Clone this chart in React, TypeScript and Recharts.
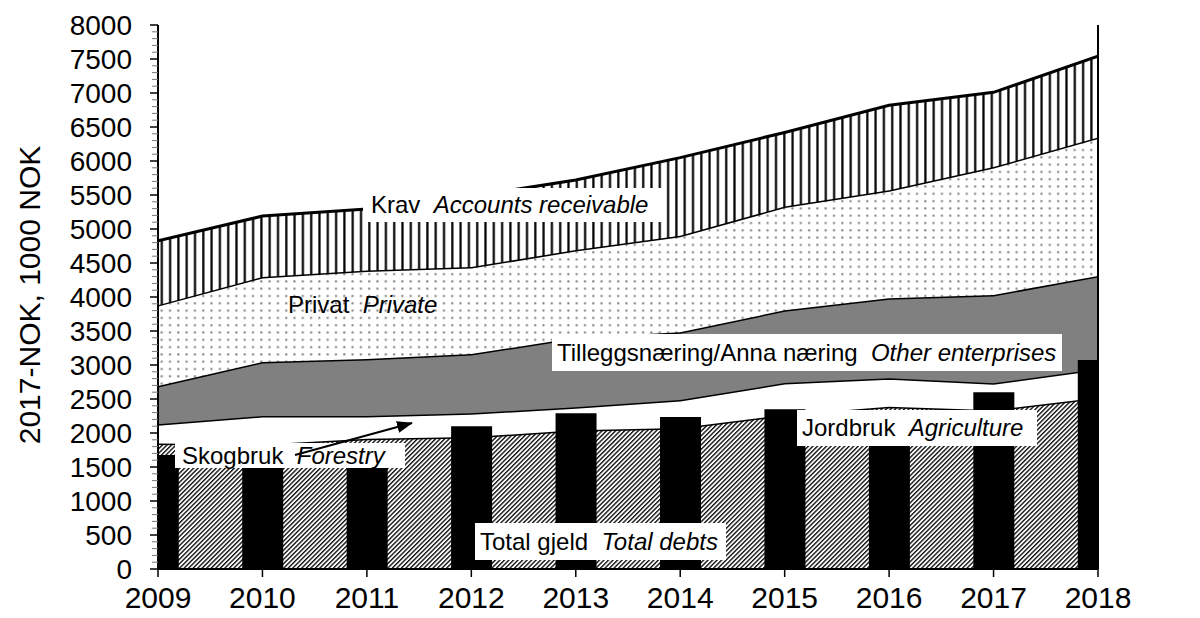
import React from "react";
import { ComposedChart, Area, Bar, XAxis, YAxis } from "recharts";

// values (1000 NOK, 2017 prices)
const years = [2009, 2010, 2011, 2012, 2013, 2014, 2015, 2016, 2017, 2018];
const jordbruk = [1845, 1830, 1915, 1940, 2040, 2075, 2265, 2385, 2335, 2520];
const skogbruk = [285, 420, 335, 350, 340, 410, 470, 420, 395, 420];
const tillegg = [560, 795, 840, 870, 1020, 995, 1070, 1175, 1300, 1370];
const privat = [1190, 1250, 1300, 1280, 1290, 1420, 1525, 1590, 1880, 2035];
const krav = [945, 895, 905, 1040, 1030, 1150, 1090, 1250, 1100, 1195];
const totalGjeld = [1675, 1650, 1600, 2100, 2290, 2235, 2350, 2250, 2600, 3075];

const minorStep = 100;
const majorStep = 500;
const allTicks = Array.from({ length: 8000 / minorStep + 1 }, (_, i) => i * minorStep);

const data = years.map((year, i) => ({
  year,
  jordbruk: jordbruk[i],
  skogbruk: skogbruk[i],
  tillegg: tillegg[i],
  privat: privat[i],
  krav: krav[i],
  gjeld: totalGjeld[i],
}));

const FONT = "'Liberation Sans', Arial, sans-serif";

function YTick(props: any) {
  const { x, y, payload, side } = props;
  const v = payload.value;
  const major = v % majorStep === 0;
  const dir = side === "left" ? -1 : 1;
  return (
    <g>
      <line
        x1={x}
        y1={y}
        x2={x + dir * (major ? 8 : 6)}
        y2={y}
        stroke={major ? "#000" : "#777"}
        strokeWidth={major ? 1.5 : 1}
      />
      {major && (
        <text
          x={x + dir * 26}
          y={y}
          dy="0.36em"
          textAnchor={side === "left" ? "end" : "start"}
          fontSize={28}
          fontFamily={FONT}
          fill="#000"
        >
          {v}
        </text>
      )}
    </g>
  );
}

const labelBase: React.CSSProperties = {
  position: "absolute",
  background: "#fff",
  whiteSpace: "pre",
  fontSize: 24,
  fontFamily: FONT,
  color: "#000",
};

export default function App() {
  return (
    <div style={{ position: "absolute", left: 0, top: 0, width: 1200, height: 618, background: "#fff" }}>
      <ComposedChart width={1200} height={618} data={data} margin={{ top: 25, right: 22, bottom: 9, left: 58 }}>
        <defs>
          <pattern id="hatch" width="3.2" height="3.2" patternUnits="userSpaceOnUse" patternTransform="rotate(45)">
            <rect width="3.2" height="3.2" fill="#fff" />
            <line x1="0.7" y1="0" x2="0.7" y2="3.2" stroke="#000" strokeWidth="1.3" />
          </pattern>
          <pattern id="dots" width="8.3" height="7.3" patternUnits="userSpaceOnUse">
            <rect width="8.3" height="7.3" fill="#fff" />
            <rect x="3" y="3" width="2" height="2" fill="#7a7a7a" />
          </pattern>
          <pattern id="vlines" width="8.3" height="10" patternUnits="userSpaceOnUse">
            <rect width="8.3" height="10" fill="#fff" />
            <rect x="3" y="0" width="2.2" height="10" fill="#000" />
          </pattern>
        </defs>
        <XAxis
          dataKey="year"
          type="number"
          domain={[2009, 2018]}
          ticks={years}
          allowDataOverflow
          height={40}
          tickSize={8}
          tickMargin={10}
          tick={{ fontSize: 30, fill: "#000", fontFamily: FONT }}
          tickLine={{ stroke: "#000", strokeWidth: 1.5 }}
          axisLine={{ stroke: "#000", strokeWidth: 2 }}
        />
        <YAxis
          yAxisId="left"
          domain={[0, 8000]}
          ticks={allTicks}
          interval={0}
          width={100}
          tickSize={0}
          tickMargin={0}
          tickLine={false}
          axisLine={{ stroke: "#000", strokeWidth: 2 }}
          tick={(p: any) => <YTick {...p} side="left" />}
        />
        <YAxis
          yAxisId="right"
          orientation="right"
          domain={[0, 8000]}
          ticks={allTicks}
          interval={0}
          width={80}
          tickSize={0}
          tickMargin={0}
          tickLine={false}
          axisLine={{ stroke: "#000", strokeWidth: 2 }}
          tick={(p: any) => <YTick {...p} side="right" />}
        />
        <Area yAxisId="left" type="linear" dataKey="jordbruk" stackId="s" stroke="#000" strokeWidth={3} fill="url(#hatch)" fillOpacity={1} isAnimationActive={false} />
        <Area yAxisId="left" type="linear" dataKey="skogbruk" stackId="s" stroke="#000" strokeWidth={3} fill="#fff" fillOpacity={1} isAnimationActive={false} />
        <Area yAxisId="left" type="linear" dataKey="tillegg" stackId="s" stroke="#000" strokeWidth={3} fill="#808080" fillOpacity={1} isAnimationActive={false} />
        <Area yAxisId="left" type="linear" dataKey="privat" stackId="s" stroke="#000" strokeWidth={3} fill="url(#dots)" fillOpacity={1} isAnimationActive={false} />
        <Area yAxisId="left" type="linear" dataKey="krav" stackId="s" stroke="#000" strokeWidth={3} fill="url(#vlines)" fillOpacity={1} isAnimationActive={false} />
        <Bar yAxisId="left" dataKey="gjeld" fill="#000" barSize={41} isAnimationActive={false} />
      </ComposedChart>

      {/* y axis title */}
      <div
        style={{
          position: "absolute",
          left: 30,
          top: 295,
          transform: "translate(-50%, -50%) rotate(-90deg)",
          whiteSpace: "pre",
          fontSize: 30,
          fontFamily: FONT,
        }}
      >
        2017-NOK, 1000 NOK
      </div>

      {/* series labels */}
      <div style={{ ...labelBase, left: 363, top: 188, height: 34, lineHeight: "34px", padding: "0 15px 0 8px" }}>
        Krav  <i>Accounts receivable</i>
      </div>
      <div style={{ ...labelBase, background: "transparent", left: 288, top: 290, height: 30, lineHeight: "30px" }}>
        Privat  <i>Private</i>
      </div>
      <div style={{ ...labelBase, left: 552, top: 334, height: 37, lineHeight: "37px", padding: "0 6px 0 5px" }}>
        Tilleggsnæring/Anna næring  <i>Other enterprises</i>
      </div>
      <div style={{ ...labelBase, left: 797, top: 410, height: 36, lineHeight: "36px", padding: "0 14px 0 5px" }}>
        Jordbruk  <i>Agriculture</i>
      </div>
      <div style={{ ...labelBase, left: 175, top: 443, height: 25, lineHeight: "25px", padding: "0 20px 0 7px" }}>
        Skogbruk  <i>Forestry</i>
      </div>
      <div style={{ ...labelBase, left: 475, top: 523, height: 37, lineHeight: "37px", padding: "0 8px 0 5px" }}>
        Total gjeld  <i>Total debts</i>
      </div>

      <svg width={1200} height={618} style={{ position: "absolute", left: 0, top: 0, pointerEvents: "none" }}>
        <defs>
          <marker id="arrowHead" markerWidth="16" markerHeight="12" refX="15" refY="6" orient="auto" markerUnits="userSpaceOnUse">
            <path d="M0,0 L16,6 L0,12 Z" fill="#000" />
          </marker>
        </defs>
        <line x1={295} y1={455} x2={412} y2={423} stroke="#000" strokeWidth={2} markerEnd="url(#arrowHead)" />
      </svg>
    </div>
  );
}
